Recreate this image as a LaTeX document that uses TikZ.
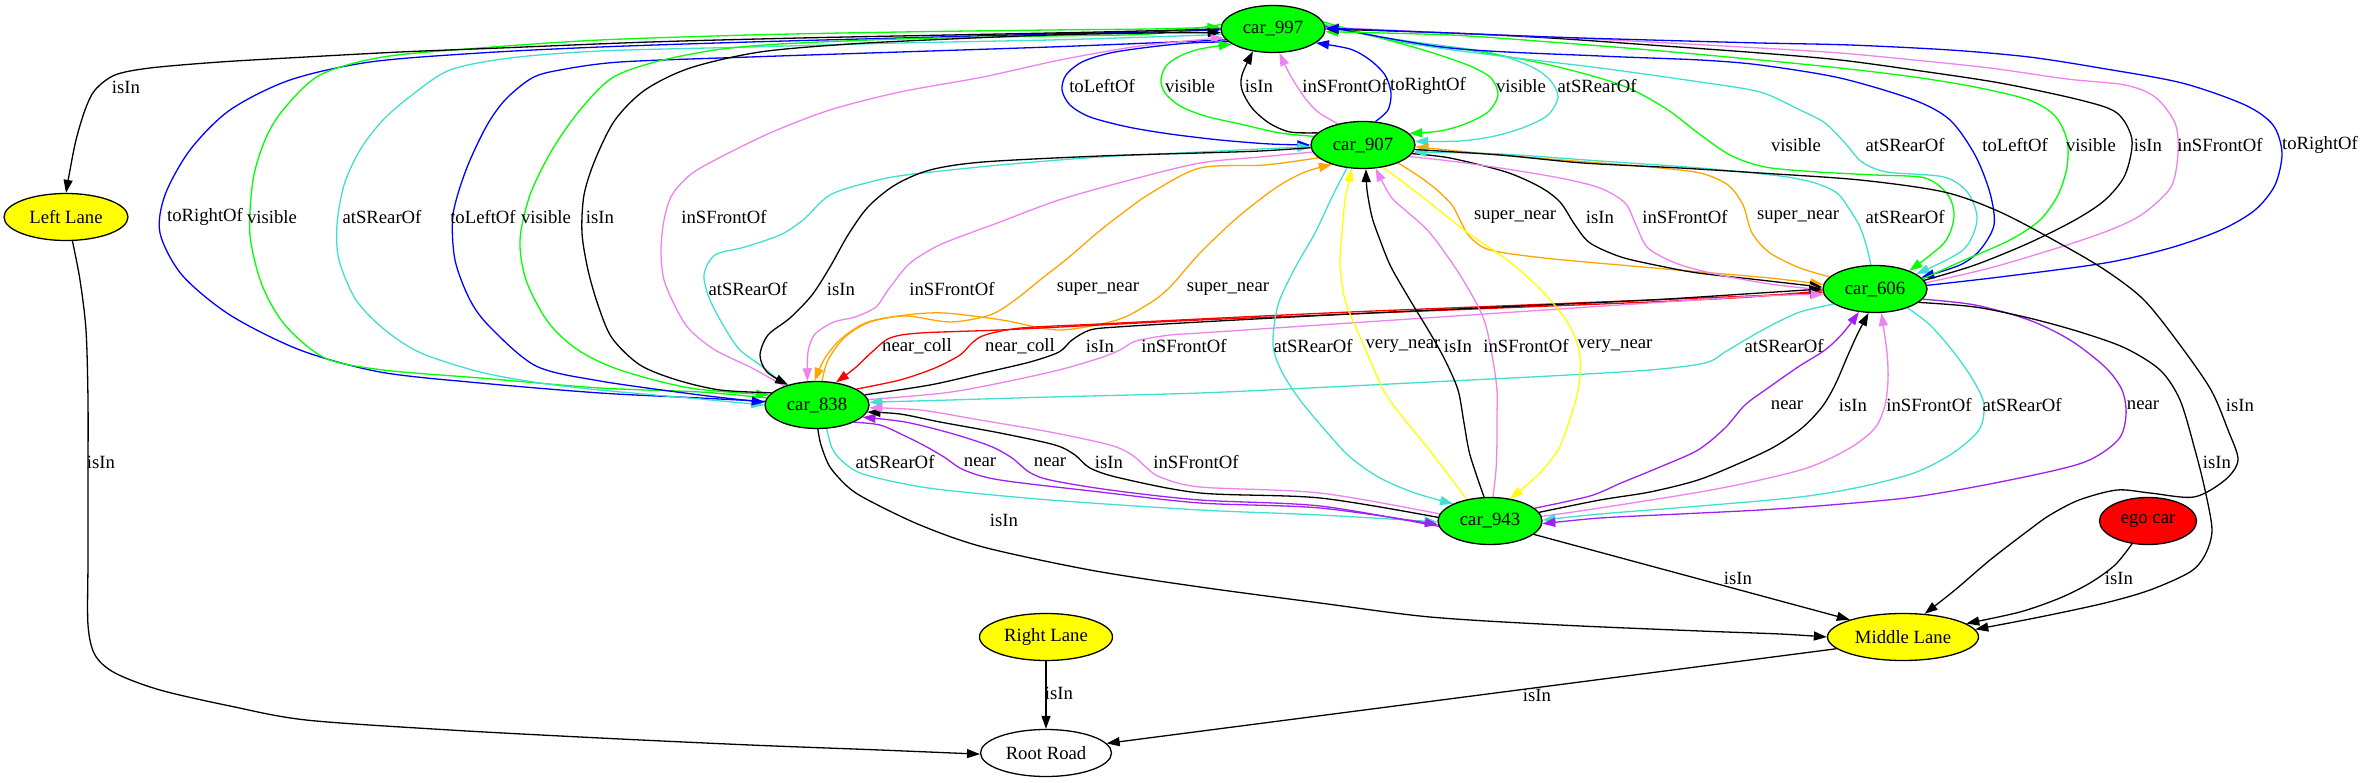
\documentclass[tikz,border=0pt]{standalone}
\usepackage{fontspec}
\setmainfont{Liberation Serif}
\usetikzlibrary{shapes.geometric,arrows.meta}
\pgfdeclarelayer{bg}
\pgfdeclarelayer{edges}
\pgfsetlayers{bg,edges,main}
\definecolor{gvgreen}{HTML}{00FF00}
\definecolor{gvblue}{HTML}{0000FF}
\definecolor{gvturq}{HTML}{40E0D0}
\definecolor{gvviolet}{HTML}{EE82EE}
\definecolor{gvorange}{HTML}{FFA500}
\definecolor{gvred}{HTML}{FF0000}
\definecolor{gvyellow}{HTML}{FFFF00}
\definecolor{gvpurple}{HTML}{A020F0}
\begin{document}
\begin{tikzpicture}[x=1pt,y=-1pt,
  gnode/.style={ellipse, draw=black, line width=1.3pt, inner sep=0pt, minimum height=47pt, font=\fontsize{18.7}{20}\selectfont},
  car/.style={gnode, fill=gvgreen, minimum width=104pt},
  lane/.style={gnode, fill=gvyellow},
  lbl/.style={inner sep=0pt, font=\fontsize{18.7}{20}\selectfont},
  ed/.style={line width=1.3pt, -{Triangle[length=13pt,width=9pt]}},
  risin/.style={ed, color=black},
  rblue/.style={ed, color=gvblue},
  rvis/.style={ed, color=gvgreen},
  rrear/.style={ed, color=gvturq},
  rfront/.style={ed, color=gvviolet},
  rsuper/.style={ed, color=gvorange},
  rcoll/.style={ed, color=gvred},
  rvery/.style={ed, color=gvyellow},
  rnear/.style={ed, color=gvpurple}]
\useasboundingbox (0,0) rectangle (2362,783);
\begin{pgfonlayer}{bg}
\fill[white] (0,0) rectangle (2362,783);
\end{pgfonlayer}

% nodes
\node[car] (n997) at (1273,29) {car\_997};
\node[car] (n907) at (1363,145) {car\_907};
\node[car] (n606) at (1875,289) {car\_606};
\node[car] (n838) at (817,405) {car\_838};
\node[car] (n943) at (1490,521) {car\_943};
\node[gnode, fill=gvred, minimum width=97pt] (ego) at (2148,521) {ego car};
\node[lane, minimum width=151pt] (mid) at (1903,637) {Middle Lane};
\node[lane, minimum width=133pt] (rl) at (1046,637) {Right Lane};
\node[gnode, fill=white, minimum width=131pt] (root) at (1046,753) {Root Road};
\node[lane, minimum width=124pt] (ll) at (66,217) {Left Lane};

\begin{pgfonlayer}{edges}
% car_838 <-> car_997
\draw[rblue] plot[smooth] coordinates {(n838.176) (700,398) (600,393) (480,383) (380,372) (300,350) (230,315) (182,275) (160,233) (165,195) (190,150) (230,110) (290,80) (370,62) (480,53) (600,47) (750,42) (900,38) (1050,34) (1150,32) (n997.181)};
\draw[rvis] plot[smooth] coordinates {(n838.172) (700,392) (600,388) (480,378) (383,370) (325,358) (285,325) (262,285) (250,235) (253,180) (265,140) (283,110) (320,75) (383,57) (480,48) (600,40) (750,35) (900,32) (1050,30) (1150,29) (n997.178)};
\draw[rrear] plot[smooth] coordinates {(n997.186) (1150,37) (1050,40) (900,43) (750,47) (600,51) (510,58) (450,70) (412,95) (383,120) (360,150) (344,185) (337,225) (339,260) (356,300) (385,330) (421,353) (480,372) (540,383) (600,390) (700,399) (n838.180)};
\draw[rblue] plot[smooth] coordinates {(n997.193) (1150,43) (1050,47) (900,52) (750,57) (620,62) (560,70) (532,78) (505,100) (486,127) (466,170) (453,215) (455,260) (470,300) (490,327) (536,366) (600,381) (700,395) (n838.177)};
\draw[rvis] plot[smooth] coordinates {(n997.175) (1150,34) (1050,36) (900,39) (780,44) (715,50) (655,62) (612,78) (580,110) (552,150) (530,195) (520,240) (526,280) (548,322) (578,350) (620,370) (690,388) (n838.168)};
\draw[risin] plot[smooth] coordinates {(n838.165) (720,390) (677,380) (640,365) (612,338) (598,305) (588,270) (582,233) (584,195) (595,160) (615,120) (645,90) (690,68) (760,52) (850,44) (950,39) (1050,35) (1150,33) (n997.184)};
\draw[rfront] plot[smooth] coordinates {(n838.150) (752,368) (715,350) (690,330) (677,310) (664,280) (661,250) (664,220) (672,195) (690,175) (715,160) (770,133) (830,110) (900,92) (983,77) (1060,60) (1140,46) (n997.190)};
% car_997 <-> car_907
\draw[rblue] plot[smooth] coordinates {(n997.196) (1190,43) (1150,47) (1110,53) (1082,62) (1066,75) (1062,90) (1070,105) (1090,117) (1128,127) (1170,134) (1220,140) (1270,144) (n907.180)};
\draw[rvis] plot[smooth] coordinates {(n907.170) (1280,133) (1240,124) (1205,116) (1180,106) (1165,93) (1161,80) (1166,66) (1180,56) (1200,49) (n997.200)};
\draw[risin] plot[smooth] coordinates {(n907.165) (1290,132) (1269,123) (1252,108) (1242,90) (1242,75) (n997.228)};
\draw[rfront] plot[smooth] coordinates {(n907.140) (1318,112) (1305,98) (1293,80) (1285,65) (n997.285)};
\draw[rblue] plot[smooth] coordinates {(n907.62) (1388,110) (1391,93) (1385,75) (1370,60) (1350,49) (n997.342)};
\draw[rvis] plot[smooth] coordinates {(n997.5) (1380,38) (1430,52) (1470,66) (1491,78) (1498,95) (1488,112) (1465,124) (1440,131) (n907.14)};
\draw[rrear] plot[smooth] coordinates {(n997.2) (1400,40) (1487,52) (1530,66) (1550,80) (1558,97) (1548,115) (1525,127) (1495,136) (1460,141) (n907.4)};
% car_997 <-> car_606
\draw[rvis] plot[smooth] coordinates {(n997.8) (1400,42) (1468,50) (1550,65) (1621,85) (1665,108) (1698,133) (1730,155) (1765,167) (1818,172) (1875,175) (1925,178) (1948,195) (1954,217) (1944,243) (n606.28)};
\draw[rrear] plot[smooth] coordinates {(n997.4) (1420,45) (1500,56) (1600,68) (1700,82) (1760,92) (1800,110) (1825,123) (1845,143) (1862,162) (1887,172) (1944,177) (1968,193) (1977,220) (1963,250) (n606.20)};
\draw[rblue] plot[smooth] coordinates {(n997.3) (1450,48) (1600,56) (1700,60) (1760,65) (1840,78) (1914,100) (1950,120) (1975,155) (1990,193) (1994,225) (1980,250) (1960,265) (n606.14)};
\draw[rvis] plot[smooth] coordinates {(n606.12) (1960,262) (2010,240) (2040,220) (2058,195) (2067,167) (2067,140) (2055,116) (2029,100) (1975,87) (1914,77) (1840,68) (1760,60) (1650,50) (1550,42) (1450,35) (n997.357)};
\draw[risin] plot[smooth] coordinates {(n606.10) (1975,265) (2029,243) (2075,220) (2105,200) (2125,175) (2132,140) (2117,113) (2080,100) (2000,83) (1914,70) (1840,60) (1760,53) (1650,45) (1550,38) (1450,33) (n997.0)};
\draw[rfront] plot[smooth] coordinates {(n606.7) (1990,268) (2067,245) (2115,228) (2144,213) (2171,187) (2178,153) (2175,123) (2155,97) (2125,85) (2067,79) (1990,68) (1914,60) (1840,53) (1760,48) (1650,42) (1550,37) (1450,33) (n997.2)};
\draw[rblue] plot[smooth] coordinates {(n606.4) (2000,277) (2105,263) (2170,248) (2221,230) (2255,210) (2275,185) (2282,153) (2273,125) (2245,105) (2182,83) (2100,68) (2029,57) (1950,50) (1850,45) (1760,43) (1650,40) (1550,37) (1450,33) (n997.1)};
% car_838 <-> car_907
\draw[rrear] plot[smooth] coordinates {(n838.148) (760,365) (740,350) (726,330) (710,300) (704,275) (715,255) (745,247) (780,235) (803,220) (830,195) (870,182) (906,175) (1000,165) (1100,157) (1200,152) (1260,149) (n907.182)};
\draw[risin] plot[smooth] coordinates {(n907.183) (1260,151) (1200,153) (1100,156) (983,162) (930,170) (895,185) (868,207) (848,235) (830,267) (812,295) (790,318) (768,335) (760,355) (767,372) (n838.145)};
\draw[rfront] plot[smooth] coordinates {(n907.188) (1260,157) (1200,163) (1130,180) (1059,200) (1000,222) (944,243) (920,256) (906,267) (888,290) (876,307) (855,317) (834,322) (815,334) (808,352) (n838.112)};
\draw[rsuper] plot[smooth] coordinates {(n907.196) (1265,165) (1200,168) (1151,193) (1120,215) (1097,233) (1068,258) (1040,280) (1015,300) (990,315) (950,322) (906,316) (868,322) (842,338) (825,358) (n838.96)};
\draw[rsuper] plot[smooth] coordinates {(n838.78) (828,360) (845,337) (870,322) (906,315) (944,313) (1002,320) (1059,330) (1117,320) (1150,303) (1170,287) (1200,253) (1238,217) (1277,187) (1305,172) (n907.212)};
% car_907 <-> car_606
\draw[rsuper] plot[smooth] coordinates {(n907.333) (1420,177) (1437,190) (1452,205) (1460,220) (1470,237) (1490,250) (1544,258) (1620,265) (1700,272) (1770,278) (n606.175)};
\draw[risin] plot[smooth] coordinates {(n907.350) (1450,158) (1506,172) (1540,187) (1560,202) (1575,225) (1590,243) (1621,257) (1660,266) (1698,273) (1760,280) (n606.178)};
\draw[rfront] plot[smooth] coordinates {(n907.346) (1450,161) (1500,168) (1560,178) (1600,188) (1625,203) (1636,225) (1648,248) (1678,264) (1720,275) (1770,284) (n606.181)};
\draw[rsuper] plot[smooth] coordinates {(n606.165) (1800,268) (1770,253) (1752,233) (1743,205) (1728,185) (1700,173) (1650,167) (1600,163) (1500,155) (n907.358)};
\draw[rrear] plot[smooth] coordinates {(n606.100) (1867,248) (1860,227) (1848,207) (1837,193) (1815,183) (1780,176) (1700,168) (1600,161) (1500,154) (n907.352)};
% car_838 <-> car_606
\draw[rcoll] plot[smooth] coordinates {(n606.182) (1750,297) (1650,302) (1500,308) (1350,314) (1200,320) (1100,325) (1000,330) (920,333) (890,338) (872,352) (855,368) (n838.50)};
\draw[rcoll] plot[smooth] coordinates {(n838.22) (900,380) (935,368) (960,355) (972,343) (985,335) (1021,328) (1100,324) (1200,319) (1350,312) (1500,306) (1650,300) (1750,296) (n606.184)};
\draw[risin] plot[smooth] coordinates {(n838.12) (930,385) (983,373) (1030,362) (1059,352) (1072,340) (1090,330) (1117,327) (1200,322) (1350,314) (1500,307) (1650,300) (1760,293) (n606.180)};
\draw[rfront] plot[smooth] coordinates {(n838.6) (944,393) (1000,383) (1059,370) (1100,358) (1120,350) (1136,341) (1170,335) (1200,333) (1350,323) (1500,313) (1650,303) (1760,296) (n606.186)};
\draw[rrear] plot[smooth] coordinates {(n606.200) (1800,312) (1770,326) (1745,340) (1725,352) (1705,363) (1650,370) (1550,376) (1450,381) (1350,386) (1200,393) (1050,397) (950,400) (n838.3)};
% car_943 <-> car_606
\draw[rnear] plot[smooth] coordinates {(n943.16) (1590,496) (1621,483) (1660,467) (1698,450) (1725,428) (1745,405) (1768,388) (1798,367) (1825,350) (1843,333) (n606.235)};
\draw[risin] plot[smooth] coordinates {(n943.10) (1600,500) (1650,492) (1698,480) (1740,463) (1774,447) (1802,428) (1822,407) (1835,385) (1848,355) (1858,333) (n606.255)};
\draw[rfront] plot[smooth] coordinates {(n943.5) (1600,508) (1700,492) (1760,480) (1810,467) (1850,448) (1875,428) (1885,405) (1888,380) (1887,353) (n606.285)};
\draw[rrear] plot[smooth] coordinates {(n606.330) (1930,325) (1952,350) (1970,375) (1983,400) (1983,420) (1975,435) (1950,455) (1914,473) (1860,487) (1800,497) (1700,506) (1600,514) (n943.1)};
\draw[rnear] plot[smooth] coordinates {(n606.348) (1975,305) (2029,320) (2070,340) (2105,367) (2122,390) (2126,415) (2118,440) (2082,463) (2000,482) (1914,497) (1830,505) (1760,510) (1680,514) (1600,518) (n943.357)};
% car_907 <-> car_943
\draw[rrear] plot[smooth] coordinates {(n907.235) (1333,195) (1315,233) (1295,268) (1278,305) (1273,345) (1282,372) (1300,400) (1325,430) (1350,457) (1380,478) (1415,493) (n943.155)};
\draw[rvery] plot[smooth] coordinates {(n943.137) (1450,477) (1427,447) (1405,420) (1385,393) (1370,360) (1357,330) (1345,300) (1340,265) (1342,233) (1345,200) (n907.245)};
\draw[risin] plot[smooth] coordinates {(n943.104) (1470,455) (1464,423) (1458,390) (1445,360) (1430,333) (1410,300) (1391,267) (1380,240) (1372,217) (1367,190) (n907.277)};
\draw[rfront] plot[smooth] coordinates {(n943.83) (1496,470) (1497,440) (1497,415) (1497,390) (1492,355) (1483,317) (1460,275) (1430,233) (1405,210) (1391,197) (n907.298)};
\draw[rvery] plot[smooth] coordinates {(n907.312) (1420,195) (1468,233) (1510,262) (1544,293) (1568,323) (1579,350) (1580,375) (1577,395) (1568,425) (1558,450) (1538,475) (n943.48)};
% car_838 <-> car_943
\draw[rrear] plot[smooth] coordinates {(n838.292) (832,448) (841,460) (860,473) (900,483) (944,490) (1050,500) (1200,510) (1320,515) (n943.181)};
\draw[rnear] plot[smooth] coordinates {(n838.335) (880,425) (903,435) (925,446) (944,457) (964,470) (1000,480) (1100,492) (1200,503) (1320,508) (n943.184)};
\draw[rnear] plot[smooth] coordinates {(n943.186) (1320,506) (1200,500) (1110,490) (1050,480) (1029,472) (1012,458) (990,446) (950,433) (905,422) (n838.345)};
\draw[risin] plot[smooth] coordinates {(n943.176) (1320,498) (1200,493) (1120,478) (1090,468) (1075,455) (1055,445) (1000,433) (940,422) (900,414) (n838.352)};
\draw[rfront] plot[smooth] coordinates {(n943.172) (1320,493) (1200,487) (1160,477) (1147,468) (1132,455) (1110,445) (1050,432) (980,420) (920,410) (n838.357)};
% lanes and road
\draw[risin] plot[smooth] coordinates {(n838.272) (821,445) (830,467) (848,487) (868,500) (920,525) (983,547) (1090,570) (1200,587) (1320,603) (1430,617) (1560,625) (1700,631) (1780,634) (mid.180)};
\draw[risin] (n943.343) -- (mid.162);
\draw[risin] plot[smooth] coordinates {(n606.343) (1975,307) (2029,318) (2080,332) (2125,348) (2160,370) (2180,400) (2195,450) (2205,490) (2212,530) (2205,555) (2190,572) (2150,590) (2105,603) (2040,617) (mid.6)};
\draw[risin] plot[smooth] coordinates {(n907.355) (1500,155) (1583,163) (1680,168) (1760,173) (1860,180) (1944,192) (2000,212) (2059,243) (2105,270) (2144,300) (2180,345) (2211,390) (2228,430) (2238,460) (2225,480) (2194,497) (2150,493) (2117,490) (2079,500) (2050,515) (2029,530) (1990,560) (1955,590) (mid.47)};
\draw[risin] plot[smooth] coordinates {(ego.235) (2115,565) (2090,583) (2060,598) (2020,612) (mid.12)};
\draw[risin] (mid.190) -- (root.9);
\draw[risin] (rl) -- (root);
\draw[risin] plot[smooth] coordinates {(ll.285) (80,280) (86,330) (88,400) (88,480) (88,560) (88,625) (95,655) (115,673) (160,690) (230,706) (306,720) (450,730) (600,738) (750,745) (880,750) (root.181)};
\draw[risin] plot[smooth] coordinates {(n997.180) (1100,32) (950,35) (800,38) (650,42) (500,48) (400,52) (306,57) (220,62) (150,68) (115,75) (95,90) (85,110) (76,140) (70,170) (ll.90)};
\end{pgfonlayer}

% labels
\node[lbl] (lA1) at (205,217) {toRightOf};
\node[lbl] (lA2) at (272,217) {visible};
\node[lbl] (lA3) at (382,217) {atSRearOf};
\node[lbl] (lA4) at (483,217) {toLeftOf};
\node[lbl] (lA5) at (546,217) {visible};
\node[lbl] (lA6) at (600,217) {isIn};
\node[lbl] (lA7) at (724,217) {inSFrontOf};
\node[lbl] (lB1) at (1102,86) {toLeftOf};
\node[lbl] (lB2) at (1190,86) {visible};
\node[lbl] (lB3) at (1259,86) {isIn};
\node[lbl] (lB4) at (1345,86) {inSFrontOf};
\node[lbl] (lB5) at (1428,86) {toRightOf};
\node[lbl] (lB6) at (1521,86) {visible};
\node[lbl] (lB7) at (1597,86) {atSRearOf};
\node[lbl] (lC1) at (1796,145) {visible};
\node[lbl] (lC2) at (1905,145) {atSRearOf};
\node[lbl] (lC3) at (2015,145) {toLeftOf};
\node[lbl] (lC4) at (2091,145) {visible};
\node[lbl] (lC5) at (2148,145) {isIn};
\node[lbl] (lC6) at (2220,145) {inSFrontOf};
\node[lbl] (lC7) at (2320,145) {toRightOf};
\node[lbl] (lD1) at (748,289) {atSRearOf};
\node[lbl] (lD2) at (841,289) {isIn};
\node[lbl] (lD3) at (952,289) {inSFrontOf};
\node[lbl] (lD4) at (1098,289) {super\_near};
\node[lbl] (lD5) at (1228,289) {super\_near};
\node[lbl] (lE1) at (1515,217) {super\_near};
\node[lbl] (lE2) at (1600,217) {isIn};
\node[lbl] (lE3) at (1685,217) {inSFrontOf};
\node[lbl] (lE4) at (1798,217) {super\_near};
\node[lbl] (lE5) at (1905,217) {atSRearOf};
\node[lbl] (lF1) at (917,346) {near\_coll};
\node[lbl] (lF2) at (1020,346) {near\_coll};
\node[lbl] (lF3) at (1100,346) {isIn};
\node[lbl] (lF4) at (1184,346) {inSFrontOf};
\node[lbl] (lF5) at (1784,346) {atSRearOf};
\node[lbl] (lG1) at (1787,405) {near};
\node[lbl] (lG2) at (1853,405) {isIn};
\node[lbl] (lG3) at (1929,405) {inSFrontOf};
\node[lbl] (lG4) at (2022,405) {atSRearOf};
\node[lbl] (lG5) at (2143,405) {near};
\node[lbl] (lH1) at (1313,346) {atSRearOf};
\node[lbl] (lH2) at (1403,346) {very\_near};
\node[lbl] (lH3) at (1458,346) {isIn};
\node[lbl] (lH4) at (1526,346) {inSFrontOf};
\node[lbl] (lH5) at (1615,346) {very\_near};
\node[lbl] (lI1) at (895,462) {atSRearOf};
\node[lbl] (lI2) at (980,462) {near};
\node[lbl] (lI3) at (1050,462) {near};
\node[lbl] (lI4) at (1109,462) {isIn};
\node[lbl] (lI5) at (1196,462) {inSFrontOf};
\node[lbl] (lJ1) at (1004,520) {isIn};
\node[lbl] (lJ2) at (1738,578) {isIn};
\node[lbl] (lJ3) at (2217,462) {isIn};
\node[lbl] (lJ4) at (2240,405) {isIn};
\node[lbl] (lJ5) at (2119,578) {isIn};
\node[lbl] (lJ6) at (1537,695) {isIn};
\node[lbl] (lJ7) at (1059,693) {isIn};
\node[lbl] (lJ8) at (101,462) {isIn};
\node[lbl] (lJ9) at (126,87) {isIn};
\end{tikzpicture}
\end{document}
